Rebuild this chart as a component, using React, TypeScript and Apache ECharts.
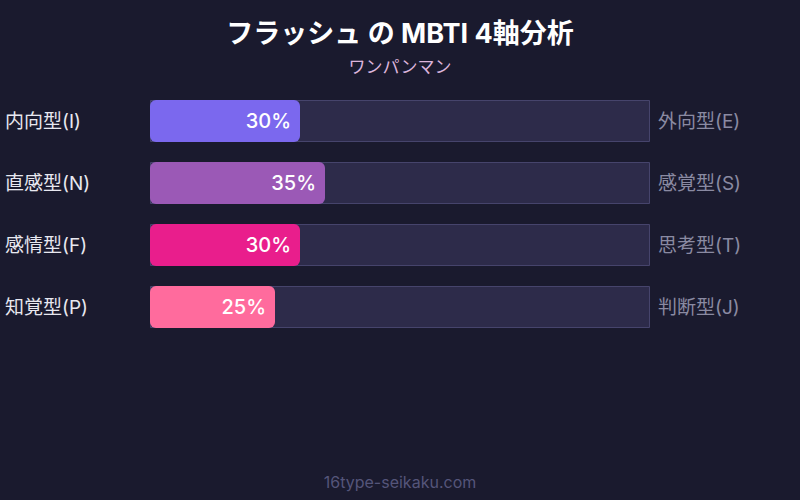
import React, { useEffect, useRef } from "react";
import * as echarts from "echarts";

// left (measured) side of each axis, right side is the opposite pole
const leftLabels = ["内向型(I)", "直感型(N)", "感情型(F)", "知覚型(P)"];
const rightLabels = ["外向型(E)", "感覚型(S)", "思考型(T)", "判断型(J)"];
const percents = [30, 35, 30, 25];
const barColors = ["#7b68ee", "#9b59b6", "#e91e8c", "#ff6b9d"];
const fullValues = [100, 100, 100, 100];

const FONT = "Inter, 'Noto Sans CJK JP', sans-serif";

const App = () => {
  const chartRef = useRef<HTMLDivElement>(null);

  useEffect(() => {
    if (!chartRef.current) return;
    const chart = echarts.init(chartRef.current, undefined, { renderer: "svg" });

    const option = {
      animation: false,
      backgroundColor: "#1a1a2e",
      textStyle: { fontFamily: FONT },
      title: [
        {
          text: "フラッシュ の MBTI 4軸分析",
          left: "center",
          top: 15,
          textStyle: { color: "#ffffff", fontSize: 27, fontWeight: "bold", fontFamily: FONT },
        },
        {
          text: "ワンパンマン",
          left: "center",
          top: 53,
          textStyle: { color: "#dcb4dc", fontSize: 17, fontWeight: "normal", fontFamily: FONT },
        },
        {
          text: "16type-seikaku.com",
          left: "center",
          bottom: 5,
          textStyle: { color: "#55557a", fontSize: 16, fontWeight: "normal", fontFamily: FONT },
        },
      ],
      grid: { left: 150, right: 150, top: 90, height: 248 },
      xAxis: {
        type: "value",
        min: 0,
        max: 100,
        show: false,
      },
      yAxis: [
        {
          type: "category",
          data: leftLabels,
          inverse: true,
          position: "left",
          axisLine: { show: false },
          axisTick: { show: false },
          axisLabel: {
            color: "#e8e8f0",
            fontSize: 19,
            align: "left",
            margin: 145,
            padding: [0, 0, 3, 0],
            fontFamily: FONT,
          },
        },
        {
          type: "category",
          data: rightLabels,
          inverse: true,
          position: "right",
          axisLine: { show: false },
          axisTick: { show: false },
          axisLabel: {
            color: "#8a8aa2",
            fontSize: 19,
            align: "left",
            margin: 8,
            padding: [0, 0, 3, 0],
            fontFamily: FONT,
          },
        },
      ],
      series: [
        {
          type: "bar",
          data: fullValues,
          barWidth: 42,
          silent: true,
          itemStyle: { color: "#2d2b4a", borderColor: "#46446c", borderWidth: 1 },
          z: 1,
        },
        {
          type: "bar",
          data: percents.map((v, i) => ({
            value: v,
            itemStyle: { color: barColors[i] },
          })),
          barWidth: 42,
          barGap: "-100%",
          itemStyle: { borderRadius: 6 },
          label: {
            show: true,
            position: "insideRight",
            distance: 9,
            formatter: "{c}%",
            color: "#ffffff",
            fontSize: 20,
            fontWeight: 500,
            fontFamily: FONT,
          },
          z: 2,
        },
      ],
    };

    chart.setOption(option);

    return () => {
      chart.dispose();
    };
  }, []);

  return (
    <div
      ref={chartRef}
      style={{ position: "fixed", left: 0, top: 0, width: "800px", height: "500px" }}
    ></div>
  );
};

export default App;
